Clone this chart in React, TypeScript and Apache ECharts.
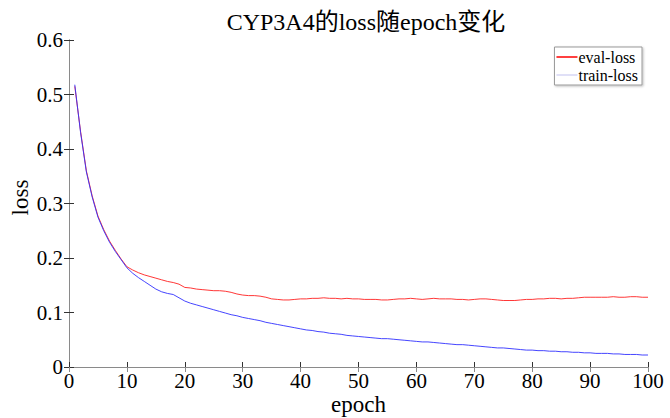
import React, { useEffect, useRef } from "react";
import * as echarts from "echarts";

const epochs: number[] = Array.from({ length: 100 }, (_, i) => i + 1);

const evalLoss: number[] = [
  0.515, 0.432, 0.360, 0.314, 0.277, 0.252, 0.231, 0.214, 0.198, 0.184,
  0.178, 0.173, 0.169, 0.166, 0.163, 0.160, 0.157, 0.155, 0.152, 0.146,
  0.145, 0.143, 0.142, 0.141, 0.140, 0.140, 0.139, 0.137, 0.134, 0.132,
  0.131, 0.131, 0.130, 0.128, 0.125, 0.124, 0.123, 0.123, 0.124, 0.125,
  0.125, 0.126, 0.126, 0.127, 0.126, 0.126, 0.125, 0.126, 0.125, 0.125,
  0.124, 0.124, 0.124, 0.123, 0.123, 0.124, 0.125, 0.125, 0.126, 0.125,
  0.124, 0.125, 0.126, 0.125, 0.125, 0.125, 0.124, 0.124, 0.123, 0.124,
  0.125, 0.125, 0.124, 0.123, 0.122, 0.122, 0.122, 0.123, 0.124, 0.124,
  0.125, 0.125, 0.126, 0.126, 0.125, 0.126, 0.126, 0.127, 0.128, 0.128,
  0.128, 0.128, 0.128, 0.129, 0.128, 0.128, 0.129, 0.129, 0.128, 0.128,
];

const trainLoss: number[] = [
  0.518, 0.430, 0.358, 0.312, 0.275, 0.250, 0.229, 0.212, 0.197, 0.182,
  0.172, 0.164, 0.157, 0.150, 0.143, 0.138, 0.135, 0.133, 0.127, 0.121,
  0.117, 0.114, 0.111, 0.108, 0.105, 0.102, 0.099, 0.096, 0.094, 0.091,
  0.089, 0.087, 0.085, 0.082, 0.080, 0.078, 0.076, 0.074, 0.072, 0.070,
  0.068, 0.067, 0.065, 0.064, 0.062, 0.061, 0.060, 0.058, 0.057, 0.056,
  0.055, 0.054, 0.053, 0.052, 0.052, 0.051, 0.050, 0.049, 0.048, 0.047,
  0.046, 0.046, 0.045, 0.044, 0.043, 0.042, 0.041, 0.041, 0.040, 0.039,
  0.038, 0.037, 0.036, 0.035, 0.035, 0.034, 0.033, 0.032, 0.031, 0.031,
  0.030, 0.030, 0.029, 0.029, 0.028, 0.028, 0.027, 0.027, 0.026, 0.026,
  0.025, 0.025, 0.025, 0.024, 0.024, 0.023, 0.023, 0.023, 0.022, 0.022,
];

const seriesNames: string[] = ["eval-loss", "train-loss"];
const titleText = "CYP3A4的loss随epoch变化";
const xName = "epoch";
const yName = "loss";

const SERIF = "'Liberation Serif', 'Times New Roman', 'Noto Sans CJK SC', serif";

export default function App() {
  const ref = useRef<HTMLDivElement>(null);
  useEffect(() => {
    if (!ref.current) return;
    const chart = echarts.init(ref.current, null, { renderer: "svg" });
    const frame = "#8a8a8a";
    const tickColor = "#333";
    const hiddenAxisCommon = {
      axisLine: { show: true, lineStyle: { color: frame, width: 1 } },
      axisTick: { show: true, inside: true, length: 5, lineStyle: { color: frame } },
      axisLabel: { show: false },
      splitLine: { show: false },
    };
    chart.setOption({
      animation: false,
      backgroundColor: "#fff",
      title: {
        text: titleText,
        left: 361,
        textAlign: "center",
        top: 5,
        textStyle: { fontFamily: SERIF, fontSize: 24, fontWeight: "normal", color: "#000" },
      },
      legend: {
        orient: "vertical",
        right: 28,
        top: 47,
        itemWidth: 21,
        itemHeight: 1.5,
        itemGap: 2,
        padding: [2, 4, 2, 2],
        backgroundColor: "#fff",
        borderColor: "#999",
        borderWidth: 1,
        shadowColor: "rgba(0,0,0,0.25)",
        shadowOffsetX: 1,
        shadowOffsetY: 1,
        shadowBlur: 2,
        textStyle: { fontFamily: SERIF, fontSize: 16, color: "#000", padding: [0, 0, 0, -4] },
        data: [
          { name: seriesNames[0], icon: "rect", itemStyle: { color: "#ff0000" } },
          { name: seriesNames[1], icon: "rect", itemStyle: { color: "#d6d6f5" } },
        ],
      },
      grid: { left: 69, right: 22, top: 40, bottom: 51, containLabel: false, outerBoundsMode: "none" },
      xAxis: [
        {
          type: "value",
          min: 0,
          max: 100,
          interval: 10,
          name: xName,
          nameLocation: "middle",
          nameGap: 26,
          nameMoveOverlap: false,
          nameTextStyle: { fontFamily: SERIF, fontSize: 23, color: "#000" },
          axisLine: { show: true, lineStyle: { color: frame, width: 1 } },
          axisTick: { show: true, inside: true, length: 5, lineStyle: { color: tickColor } },
          axisLabel: { fontFamily: SERIF, fontSize: 21, color: "#000", margin: 3 },
          splitLine: { show: false },
        },
        { type: "value", min: 0, max: 100, interval: 10, position: "top", ...hiddenAxisCommon },
      ],
      yAxis: [
        {
          type: "value",
          min: 0,
          max: 0.6,
          interval: 0.1,
          name: yName,
          nameLocation: "middle",
          nameGap: 37,
          nameMoveOverlap: false,
          nameRotate: 90,
          nameTextStyle: { fontFamily: SERIF, fontSize: 23, color: "#000", padding: [0, 0, 0, 12] },
          axisLine: { show: true, lineStyle: { color: frame, width: 1 } },
          axisTick: { show: true, inside: true, length: 5, lineStyle: { color: tickColor } },
          axisLabel: {
            fontFamily: SERIF,
            fontSize: 21,
            color: "#000",
            margin: 6,
            formatter: (v: number) => (v === 0 ? "0" : String(Math.round(v * 10) / 10)),
          },
          splitLine: { show: false },
        },
        { type: "value", min: 0, max: 0.6, interval: 0.1, position: "right", ...hiddenAxisCommon,
          axisTick: { show: true, inside: true, length: 5, lineStyle: { color: tickColor } } },
      ],
      series: [
        {
          name: seriesNames[0],
          type: "line",
          data: epochs.map((e, i) => [e, evalLoss[i]]),
          symbol: "none",
          lineStyle: { color: "#ff2020", width: 0.9 },
          itemStyle: { color: "#ff0000" },
          z: 2,
        },
        {
          name: seriesNames[1],
          type: "line",
          data: epochs.map((e, i) => [e, trainLoss[i]]),
          symbol: "none",
          lineStyle: { color: "#3030ff", width: 0.9 },
          itemStyle: { color: "#3333ff" },
          z: 3,
        },
      ],
    });
    return () => chart.dispose();
  }, []);
  return <div ref={ref} style={{ width: 670, height: 418, position: "absolute", left: 0, top: 0 }} />;
}
